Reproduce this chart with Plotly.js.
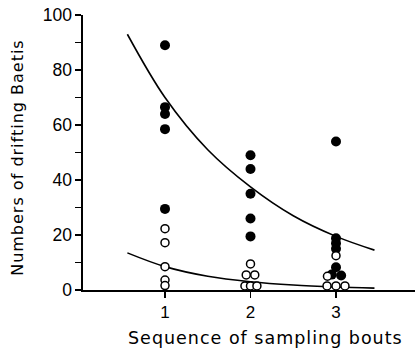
<!DOCTYPE html>
<html>
<head>
<meta charset="utf-8">
<script src="https://cdn.plot.ly/plotly-3.0.1.min.js"></script>
<style>
html,body{margin:0;padding:0;background:#fff;}
#chart{width:417px;height:350px;}
#chart .annotation-text{letter-spacing:1px;}
</style>
</head>
<body>
<div id="chart"></div>
<script>
// Filled circles (one series)
var filledX = [1, 1, 1, 1, 1, 2, 2, 2, 2, 2, 3, 3, 3, 3, 3, 2.95, 3.06];
var filledY = [89, 66.5, 64, 58.5, 29.5, 49, 44, 35, 26, 19.5, 54, 18.8, 17, 15, 8.3, 5.6, 5.3];
// Open circles (other series)
var openX = [1, 1, 1, 1, 1, 2, 1.95, 2.05, 1.935, 2.0, 2.075, 3, 2.9, 2.895, 3.0, 3.105];
var openY = [22.3, 17.2, 8.5, 3.6, 1.6, 9.5, 5.5, 5.5, 1.5, 1.5, 1.5, 12.5, 5, 1.5, 1.5, 1.5];
// Fitted curves
var curveX = [0.56, 1, 1.5, 2, 2.5, 3, 3.45];
var upperCurveY = [93, 70, 51, 37.5, 27, 19.5, 14.5];
var lowerCurveY = [13.5, 8.5, 5, 3, 1.8, 1.1, 0.7];
var xTickVals = [1, 2, 3];
var xTickText = ['1', '2', '3'];
var yTickVals = [0, 20, 40, 60, 80, 100];

var fontFam = 'Liberation Sans, Arial, sans-serif';
var traces = [
  {x: curveX, y: upperCurveY, mode: 'lines', line: {color: '#000', width: 1.6, shape: 'spline'}, hoverinfo: 'skip', cliponaxis: false},
  {x: curveX, y: lowerCurveY, mode: 'lines', line: {color: '#000', width: 1.6, shape: 'spline'}, hoverinfo: 'skip', cliponaxis: false},
  {x: filledX, y: filledY, mode: 'markers', marker: {symbol: 'circle', size: 10, color: '#000'}, cliponaxis: false},
  {x: openX, y: openY, mode: 'markers', marker: {symbol: 'circle', size: 8, color: '#fff', line: {color: '#000', width: 1.5}}, cliponaxis: false}
];
var layout = {
  width: 417, height: 350,
  margin: {l: 83, r: 2, t: 15, b: 60},
  paper_bgcolor: '#fff', plot_bgcolor: '#fff',
  showlegend: false,
  font: {family: fontFam, color: '#000'},
  xaxis: {
    range: [0.041, 3.924], showgrid: false, zeroline: false,
    showline: true, linecolor: '#000', linewidth: 1.6,
    tickmode: 'array', tickvals: xTickVals, ticktext: xTickText,
    ticks: 'outside', ticklen: 6, tickwidth: 1.2, tickcolor: '#000',
    tickfont: {size: 17, family: fontFam, color: '#000'}
  },
  yaxis: {
    range: [0, 100], showgrid: false, zeroline: false,
    showline: true, linecolor: '#000', linewidth: 1.6,
    tickmode: 'array', tickvals: yTickVals,
    ticks: 'outside', ticklen: 6, tickwidth: 1.2, tickcolor: '#000',
    tickfont: {size: 17.5, family: fontFam, color: '#000'},
    minor: {dtick: 10, tick0: 0, ticks: 'outside', ticklen: 6, tickwidth: 1.2, tickcolor: '#000'}
  },
  annotations: [
    {text: 'Sequence of sampling bouts', xref: 'paper', yref: 'paper', x: 0.551, y: -0.175,
     xanchor: 'center', yanchor: 'middle', showarrow: false,
     font: {size: 17.5, family: 'DejaVu Sans, sans-serif', color: '#000'}},
    {text: 'Numbers of drifting Baetis', xref: 'paper', yref: 'paper', x: -0.196, y: 0.484,
     xanchor: 'center', yanchor: 'middle', showarrow: false, textangle: -90,
     font: {size: 16, family: 'DejaVu Sans, sans-serif', color: '#000'}}
  ]
};
Plotly.newPlot('chart', traces, layout, {displayModeBar: false, staticPlot: true});
</script>
</body>
</html>
